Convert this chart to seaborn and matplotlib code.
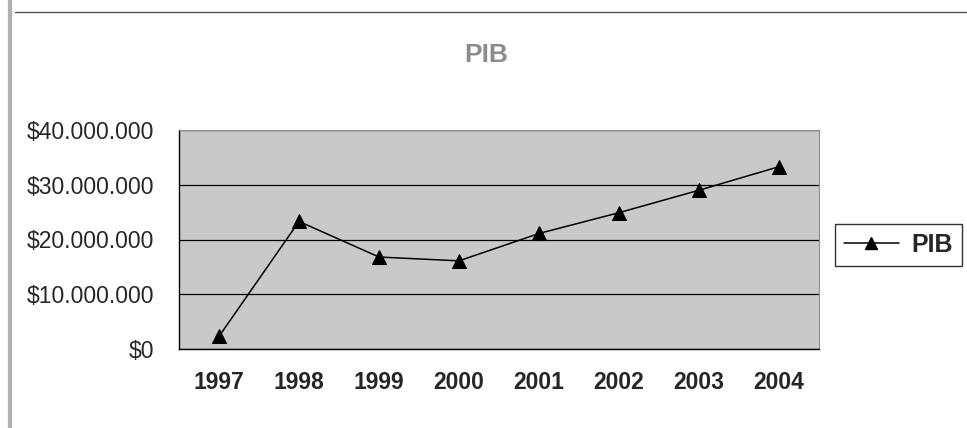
import numpy as np
import pandas as pd
import matplotlib
matplotlib.use("Agg")
import matplotlib.pyplot as plt
import matplotlib.ticker as mticker
from matplotlib.lines import Line2D
import seaborn as sns

# data
years = ["1997", "1998", "1999", "2000", "2001", "2002", "2003", "2004"]
pib = [2300000, 23300000, 16800000, 16100000, 21100000, 24900000, 29000000, 33300000]
y_ticks = [0, 10000000, 20000000, 30000000, 40000000]

df = pd.DataFrame({"year": years, "PIB": pib})

sns.set_style("white")
plt.rcParams["font.family"] = ["Liberation Sans", "DejaVu Sans"]

fig = plt.figure(figsize=(9.67, 4.28), dpi=100)
ax = fig.add_axes([179 / 967, 1 - 349 / 428, 640 / 967, 219 / 428])
ax.set_facecolor("#c9c9c9")

sns.lineplot(data=df, x="year", y="PIB", ax=ax, color="black", linewidth=1.1,
             marker="^", markersize=10, markeredgecolor="black", legend=False)

ax.set_ylim(0, 40000000)
ax.set_xlim(-0.5, len(years) - 0.5)
ax.set_yticks(y_ticks)
ax.yaxis.set_major_formatter(mticker.FuncFormatter(lambda v, p: "$" + f"{v:,.0f}".replace(",", ".")))
ax.grid(axis="y", color="black", linewidth=0.9)
ax.set_axisbelow(True)

ax.set_xticks(range(len(years)))
ax.set_xticklabels(years, fontsize=16.5, fontweight="bold")
ax.set_xticks(np.arange(-0.5, len(years)), minor=True)
ax.tick_params(axis="x", which="major", length=0, pad=16)
ax.tick_params(axis="x", which="minor", length=6, width=0.9, color="black", direction="out")
ax.tick_params(axis="y", length=6, width=0.9, color="black", direction="out", labelsize=16.5, pad=12)
ax.set_xlabel("")
ax.set_ylabel("")

for side in ["left", "bottom"]:
    ax.spines[side].set_color("black")
    ax.spines[side].set_linewidth(1.0)
for side in ["top", "right"]:
    ax.spines[side].set_color("#909090")
    ax.spines[side].set_linewidth(0.8)

fig.text(486 / 967, 1 - 55 / 428, "PIB", ha="center", va="center",
         fontsize=19, fontweight="bold", color="#8c8c8c")

handle = Line2D([], [], color="black", linewidth=1.1, marker="^", markersize=9)
leg = fig.legend([handle], ["PIB"], loc="center left", bbox_to_anchor=(835 / 967, 1 - 245 / 428),
                 frameon=True, fancybox=False, edgecolor="black", fontsize=18,
                 handlelength=2.2, borderpad=0.35, handletextpad=0.5, borderaxespad=0)
for t in leg.get_texts():
    t.set_fontweight("bold")
leg.get_frame().set_linewidth(1.0)

# scanned page border lines
fig.add_artist(Line2D([15 / 967, 1], [1 - 12 / 428, 1 - 12 / 428], color="#555555", linewidth=1.0))
fig.add_artist(Line2D([10 / 967, 10 / 967], [0, 1], color="#b0b0b0", linewidth=3))

fig.savefig("out.png", dpi=100)
